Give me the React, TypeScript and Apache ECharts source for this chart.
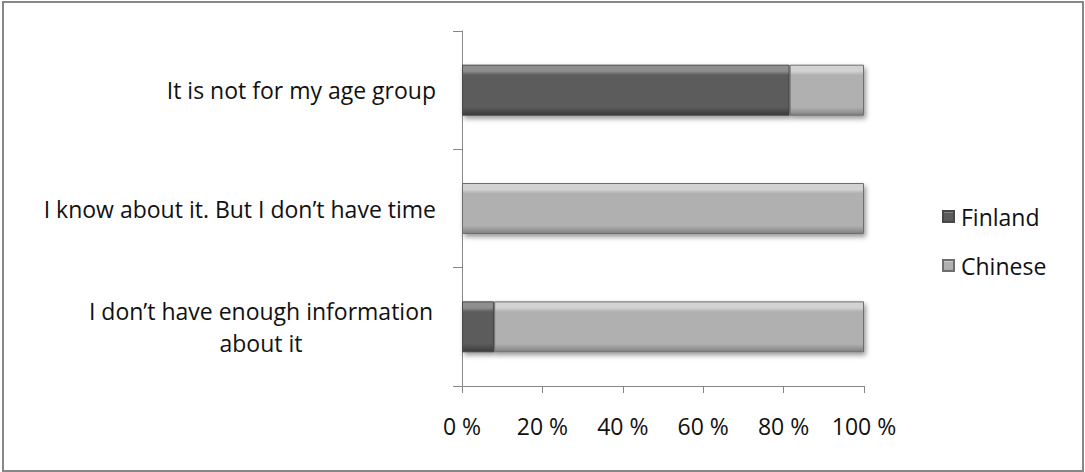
import React, { useEffect, useRef } from "react";
import * as echarts from "echarts";

const categories = [
  "I don’t have enough information\nabout it",
  "I know about it. But I don’t have time",
  "It is not for my age group",
];
const seriesNames = ["Finland", "Chinese"];
const finland = [8, 0, 81.5];
const chinese = [92, 100, 18.5];
const xTicks = [0, 20, 40, 60, 80, 100];

const FONT = "'Open Sans', 'Noto Sans', sans-serif";
const FONT_SIZE = 23;

// Vertical gradient giving the bars a bevelled look: light top edge, dark bottom edge.
function bevel(light: string, mid: string, dark: string, edge: string) {
  return new echarts.graphic.LinearGradient(0, 0, 0, 1, [
    { offset: 0, color: light },
    { offset: 0.12, color: light },
    { offset: 0.2, color: mid },
    { offset: 0.84, color: mid },
    { offset: 0.92, color: dark },
    { offset: 1, color: edge },
  ]);
}

export default function App() {
  const ref = useRef<HTMLDivElement>(null);

  useEffect(() => {
    if (!ref.current) return;
    const chart = echarts.init(ref.current, null, { renderer: "svg" });
    const barShadow = {
      shadowColor: "rgba(0,0,0,0.4)",
      shadowBlur: 5,
      shadowOffsetX: 2,
      shadowOffsetY: 3,
    };
    chart.setOption({
      animation: false,
      backgroundColor: "#ffffff",
      textStyle: { fontFamily: FONT },
      graphic: [
        {
          type: "rect",
          shape: { x: 3, y: 2, width: 1080, height: 469 },
          style: { fill: "none", stroke: "#878787", lineWidth: 2 },
          silent: true,
        },
      ],
      grid: { left: 462, right: 221, top: 31, bottom: 86, containLabel: false },
      legend: {
        orient: "vertical",
        left: 937,
        top: 200,
        itemWidth: 11,
        itemHeight: 11,
        itemGap: 26,
        icon: "rect",
        textStyle: { fontFamily: FONT, fontSize: FONT_SIZE, color: "#111", padding: [0, 0, 0, 2] },
        data: seriesNames,
      },
      xAxis: {
        type: "value",
        min: xTicks[0],
        max: xTicks[xTicks.length - 1],
        interval: xTicks[1] - xTicks[0],
        axisLine: { show: true, lineStyle: { color: "#878787", width: 1 } },
        axisTick: { show: true, length: 7, lineStyle: { color: "#878787" } },
        splitLine: { show: false },
        axisLabel: {
          formatter: "{value} %",
          fontFamily: FONT,
          fontSize: FONT_SIZE,
          color: "#111",
          margin: 28,
        },
      },
      yAxis: {
        type: "category",
        data: categories.map((c, i) =>
          i === 0
            ? { value: c, textStyle: { align: "center", padding: [0, 350, 0, 0], lineHeight: 32 } }
            : c
        ),
        axisLine: { show: true, lineStyle: { color: "#878787", width: 1 } },
        axisTick: { show: true, length: 9, lineStyle: { color: "#878787" } },
        axisLabel: {
          fontFamily: FONT,
          fontSize: FONT_SIZE,
          color: "#111",
          margin: 26,
        },
      },
      series: [
        {
          name: seriesNames[0],
          type: "bar",
          stack: "total",
          barWidth: 51,
          data: finland,
          itemStyle: {
            color: bevel("#8e8e8e", "#5c5c5c", "#4b4b4b", "#3a3a3a"),
            borderColor: "#484848",
            borderWidth: 1,
            ...barShadow,
          },
        },
        {
          name: seriesNames[1],
          type: "bar",
          stack: "total",
          barWidth: 51,
          data: chinese,
          itemStyle: {
            color: bevel("#d2d2d2", "#b0b0b0", "#9a9a9a", "#7f7f7f"),
            borderColor: "#6e6e6e",
            borderWidth: 1,
            ...barShadow,
          },
        },
      ],
    });
    return () => chart.dispose();
  }, []);

  return (
    <div
      ref={ref}
      style={{ position: "absolute", left: 0, top: 0, width: 1085, height: 472 }}
    />
  );
}
